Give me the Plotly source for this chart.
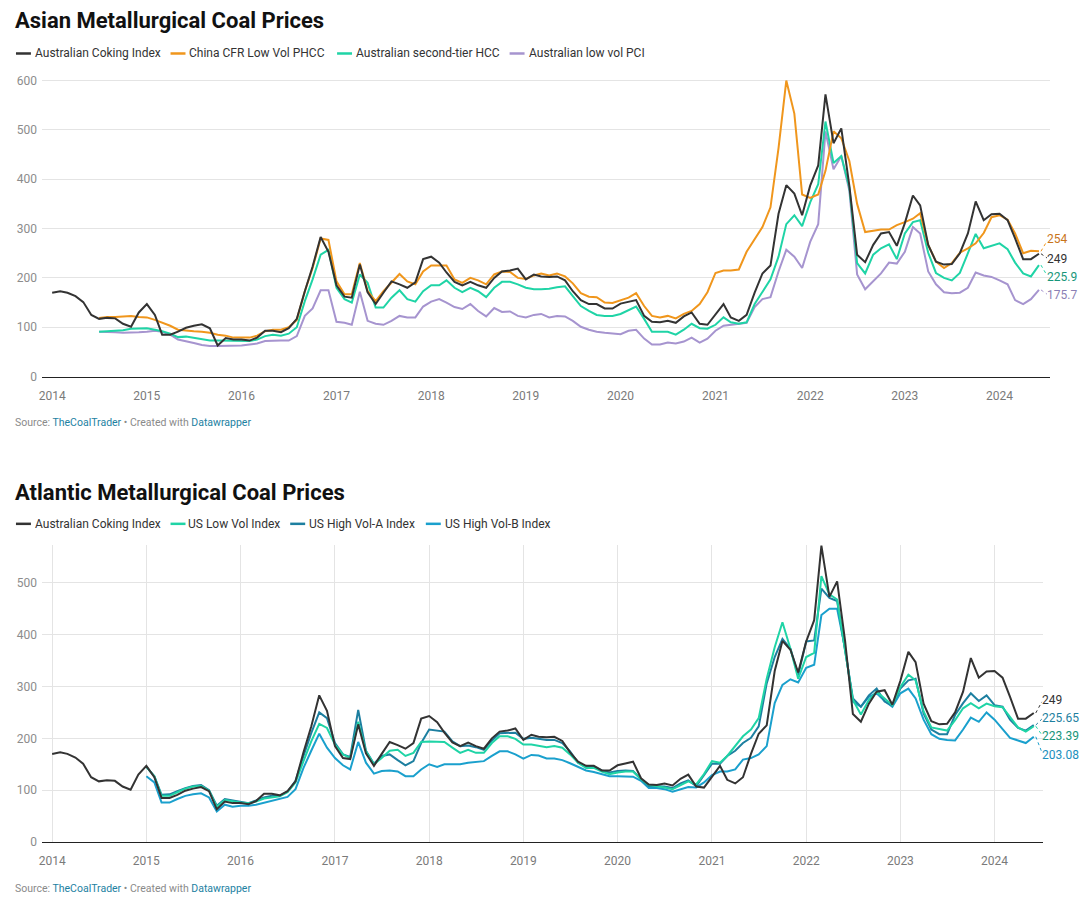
import pandas as pd
import plotly.graph_objects as go

W, H = 1087, 918

# ---------------- DATA ----------------
months_all = pd.date_range("2014-01-01", "2024-06-01", freq="MS")
dates_all = [d.strftime("%Y-%m-%d") for d in months_all]
dates_jul14 = dates_all[6:]
dates_jan15 = dates_all[12:]

years = list(range(2014, 2025))
year_ticks = [f"{y}-01-01" for y in years]
year_labels = [str(y) for y in years]

australian_coking = [
    170, 173, 170, 163, 151, 125, 117, 119, 118, 107, 101, 130,
    147, 125, 85, 85, 91, 99, 103, 106, 98, 63, 78, 75,
    75, 73, 79, 93, 93, 90, 98, 117, 173, 223, 283, 253,
    185, 162, 160, 227, 171, 147, 170, 193, 187, 180, 191, 238,
    243, 231, 211, 192, 185, 192, 185, 180, 200, 213, 215, 219,
    197, 207, 203, 202, 203, 195, 173, 155, 147, 147, 138, 138,
    148, 152, 155, 123, 111, 110, 113, 109, 122, 130, 107, 105,
    125, 147, 120, 113, 125, 170, 209, 225, 330, 388, 371, 327,
    387, 428, 572, 473, 503, 387, 247, 232, 267, 290, 293, 265,
    311, 367, 347, 267, 233, 227, 228, 250, 290, 355, 317, 329,
    330, 317, 280, 238, 238, 249,
]

china_cfr_phcc = [
    119, 121, 121, 122, 123, 121,
    120, 115, 110, 103, 95, 93, 92, 91, 89, 85, 83, 79,
    79, 79, 83, 92, 95, 95, 100, 115, 173, 220, 280, 277,
    193, 167, 167, 230, 173, 153, 173, 190, 208, 193, 187, 213,
    225, 225, 225, 197, 190, 200, 195, 187, 207, 213, 212, 200,
    198, 205, 209, 205, 209, 203, 189, 169, 162, 161, 150, 149,
    155, 160, 169, 143, 123, 120, 123, 118, 127, 133, 147, 171,
    210, 215, 215, 217, 253, 278, 303, 343, 463, 600, 533, 369,
    362, 369, 417, 497, 483, 437, 350, 293, 295, 298, 298, 307,
    313, 320, 331, 267, 233, 220, 230, 251, 260, 270, 291, 323,
    327, 318, 290, 250, 255, 254,
]

aus_second_tier_hcc = [
    91, 92, 93, 94, 97, 98,
    98, 95, 92, 87, 80, 81, 78, 75, 73, 73, 73, 72,
    72, 72, 75, 82, 85, 83, 87, 100, 153, 197, 247, 257,
    180, 157, 150, 207, 190, 140, 140, 160, 175, 157, 152, 173,
    185, 185, 195, 180, 171, 180, 173, 161, 180, 192, 192, 187,
    180, 177, 177, 178, 181, 183, 163, 143, 133, 125, 123, 123,
    127, 135, 142, 117, 91, 91, 91, 85, 95, 107, 98, 97,
    105, 120, 110, 107, 110, 147, 173, 197, 243, 309, 327, 305,
    353, 390, 517, 433, 447, 383, 230, 209, 247, 260, 268, 238,
    290, 313, 317, 251, 210, 200, 195, 210, 250, 289, 260, 265,
    270, 258, 231, 209, 203, 225.9,
]

aus_low_vol_pci = [
    91, 91, 90, 89, 89, 90,
    91, 93, 91, 85, 75, 72, 68, 64, 62, 62, 62, 63,
    63, 65, 67, 72, 73, 73, 73, 82, 123, 138, 175, 175,
    111, 109, 105, 172, 113, 107, 105, 113, 123, 120, 120, 142,
    152, 157, 150, 141, 137, 147, 133, 122, 139, 131, 132, 123,
    120, 125, 127, 120, 123, 122, 113, 101, 95, 91, 89, 87,
    86, 93, 95, 77, 65, 65, 69, 67, 71, 79, 69, 77,
    93, 103, 105, 107, 109, 141, 157, 161, 213, 257, 243, 220,
    273, 309, 497, 420, 447, 377, 207, 177, 193, 209, 231, 229,
    253, 303, 290, 213, 187, 171, 169, 170, 180, 211, 205, 202,
    195, 187, 155, 147, 157, 175.7,
]

us_low_vol = [
    145, 127, 89, 89, 96, 103, 107, 108, 99, 68, 81, 78,
    76, 75, 78, 84, 86, 88, 96, 115, 156, 194, 228, 220,
    188, 169, 162, 232, 175, 150, 162, 176, 178, 166, 172, 193,
    194, 194, 193, 182, 172, 178, 172, 172, 191, 204, 204, 199,
    188, 188, 185, 183, 185, 182, 169, 153, 143, 143, 136, 131,
    134, 136, 136, 121, 110, 108, 105, 102, 110, 117, 111, 131,
    156, 153, 166, 185, 204, 217, 239, 315, 376, 424, 373, 315,
    357, 365, 513, 478, 468, 369, 274, 246, 274, 290, 277, 264,
    299, 323, 312, 252, 221, 218, 215, 235, 258, 268, 258, 267,
    262, 260, 240, 221, 213, 223.39,
]

us_high_vol_a = [
    145, 127, 91, 92, 98, 104, 108, 110, 100, 70, 83, 80,
    78, 75, 80, 86, 89, 89, 97, 118, 166, 210, 250, 239,
    191, 169, 164, 255, 176, 151, 166, 169, 158, 148, 156, 191,
    217, 215, 213, 194, 185, 186, 183, 178, 196, 210, 211, 211,
    199, 201, 199, 197, 197, 191, 175, 153, 145, 145, 138, 134,
    137, 138, 137, 121, 108, 107, 107, 104, 113, 119, 108, 129,
    151, 151, 166, 176, 191, 201, 223, 306, 357, 392, 373, 322,
    387, 389, 489, 471, 465, 369, 277, 261, 283, 296, 271, 263,
    296, 312, 315, 248, 217, 208, 208, 245, 268, 287, 272, 283,
    264, 261, 236, 220, 215, 225.65,
]

us_high_vol_b = [
    127, 115, 76, 76, 83, 89, 92, 94, 86, 59, 72, 68,
    70, 70, 72, 76, 80, 83, 87, 102, 143, 176, 209, 182,
    162, 148, 140, 193, 153, 132, 137, 138, 136, 127, 127, 140,
    150, 145, 150, 150, 150, 153, 155, 156, 166, 175, 175, 169,
    161, 168, 167, 161, 161, 158, 152, 145, 138, 135, 131, 127,
    127, 126, 126, 118, 104, 104, 102, 97, 102, 106, 105, 115,
    129, 136, 136, 140, 159, 162, 169, 185, 268, 303, 314, 308,
    336, 342, 438, 450, 450, 373, 271, 261, 280, 287, 272, 261,
    287, 296, 277, 236, 208, 199, 197, 196, 217, 240, 232, 250,
    236, 217, 201, 196, 191, 203.08,
]

# ---------------- STYLE ----------------
FONT = "Roboto"
C_BLACK = "#333333"
C_ORANGE = "#f0961c"
C_GREEN = "#1fd4a6"
C_PURPLE = "#a694cf"
C_TEAL = "#1d7fa0"
C_BLUE = "#1aa0cd"

GRID = "#e4e4e4"

fig = go.Figure()


def ts(d):
    return pd.Timestamp(d).value / 1e6  # ms


def xrange_for(px_left, px_right, px_2014, px_per_year):
    t14 = ts("2014-01-01")
    t24 = ts("2024-01-01")
    ms_per_px = (t24 - t14) / (10 * px_per_year)
    a = t14 - (px_2014 - px_left) * ms_per_px
    b = t14 + (px_right - px_2014) * ms_per_px
    return [pd.Timestamp(a, unit="ms").strftime("%Y-%m-%d %H:%M:%S"),
            pd.Timestamp(b, unit="ms").strftime("%Y-%m-%d %H:%M:%S")]


def py(px):
    return 1 - px / H


# --------- TOP CHART ---------
top_series = [
    ("Australian low vol PCI", dates_jul14, aus_low_vol_pci, C_PURPLE),
    ("Australian second-tier HCC", dates_jul14, aus_second_tier_hcc, C_GREEN),
    ("China CFR Low Vol PHCC", dates_jul14, china_cfr_phcc, C_ORANGE),
    ("Australian Coking Index", dates_all, australian_coking, C_BLACK),
]
for name, xs, ys, col in top_series:
    fig.add_trace(go.Scatter(x=xs, y=ys, mode="lines", name=name,
                             line=dict(color=col, width=2), xaxis="x", yaxis="y",
                             showlegend=False, hoverinfo="skip"))

bot_series = [
    ("US High Vol-B Index", dates_jan15, us_high_vol_b, C_BLUE),
    ("US High Vol-A Index", dates_jan15, us_high_vol_a, C_TEAL),
    ("US Low Vol Index", dates_jan15, us_low_vol, C_GREEN),
    ("Australian Coking Index", dates_all, australian_coking, C_BLACK),
]
for name, xs, ys, col in bot_series:
    fig.add_trace(go.Scatter(x=xs, y=ys, mode="lines", name=name,
                             line=dict(color=col, width=2), xaxis="x2", yaxis="y2",
                             showlegend=False, hoverinfo="skip"))

# axis geometry (pixels)
T_LEFT, T_RIGHT, T_2014, T_PPY = 39, 1050, 49.3, 95.0
T_ZERO, T_PPU, T_YMAX = 378.3, 0.4983, 610
B_LEFT, B_RIGHT, B_2014, B_PPY = 39, 1043, 49.3, 94.5
B_ZERO, B_PPU, B_YMAX = 848.3, 0.5233, 574

tick_font_y = dict(family=FONT, size=12, color="#8c8c8c")
tick_font_x = dict(family=FONT, size=12, color="#7a7a7a")

fig.update_layout(
    width=W, height=H,
    margin=dict(l=0, r=0, t=0, b=0),
    paper_bgcolor="white", plot_bgcolor="white",
    showlegend=False,
    font=dict(family=FONT, color="#333"),
    xaxis=dict(domain=[T_LEFT / W, T_RIGHT / W], anchor="y", type="date",
               range=xrange_for(T_LEFT, T_RIGHT, T_2014, T_PPY),
               tickmode="array", tickvals=year_ticks, ticktext=year_labels,
               showgrid=False, zeroline=False, showline=True, linecolor="#222",
               linewidth=1, ticks="", tickfont=tick_font_x,
               ticklabelstandoff=8, fixedrange=True),
    yaxis=dict(domain=[py(T_ZERO), py(T_ZERO - T_YMAX * T_PPU)], anchor="x",
               range=[0, T_YMAX], tickmode="array",
               tickvals=[0, 100, 200, 300, 400, 500, 600],
               showgrid=True, gridcolor=GRID, gridwidth=1, zeroline=False,
               showline=False, ticks="", tickfont=tick_font_y,
               ticklabelstandoff=4, fixedrange=True),
    xaxis2=dict(domain=[B_LEFT / W, B_RIGHT / W], anchor="y2", type="date",
                range=xrange_for(B_LEFT, B_RIGHT, B_2014, B_PPY),
                tickmode="array", tickvals=year_ticks, ticktext=year_labels,
                showgrid=True, gridcolor=GRID, gridwidth=1,
                zeroline=False, showline=True, linecolor="#222",
                linewidth=1, ticks="", tickfont=tick_font_x,
                ticklabelstandoff=8, fixedrange=True),
    yaxis2=dict(domain=[py(B_ZERO), py(B_ZERO - B_YMAX * B_PPU)], anchor="x2",
                range=[0, B_YMAX], tickmode="array",
                tickvals=[0, 100, 200, 300, 400, 500],
                showgrid=True, gridcolor=GRID, gridwidth=1, zeroline=False,
                showline=False, ticks="", tickfont=tick_font_y,
                ticklabelstandoff=4, fixedrange=True),
)

annotations = []
shapes = []


def text_px(x, y, text, size, color, weight=400, xanchor="left"):
    annotations.append(dict(x=x / W, y=py(y), xref="paper", yref="paper",
                            text=text, showarrow=False, xanchor=xanchor,
                            yanchor="middle", borderpad=0, borderwidth=0,
                            font=dict(family=FONT, size=size, color=color,
                                      weight=weight)))


# titles
text_px(12, 19, "Asian Metallurgical Coal Prices", 22, "#111", 700)
text_px(12, 495, "Atlantic Metallurgical Coal Prices", 22, "#111", 700)

# custom legends
legend1 = [("Australian Coking Index", C_BLACK, 13, 32),
           ("China CFR Low Vol PHCC", C_ORANGE, 168, 187),
           ("Australian second-tier HCC", C_GREEN, 335, 354),
           ("Australian low vol PCI", C_PURPLE, 508, 527)]
legend2 = [("Australian Coking Index", C_BLACK, 13, 32),
           ("US Low Vol Index", C_GREEN, 168, 186),
           ("US High Vol-A Index", C_TEAL, 288, 307),
           ("US High Vol-B Index", C_BLUE, 424, 443)]
for items, ly in ((legend1, 52), (legend2, 527)):
    for label, col, sx, tx in items:
        shapes.append(dict(type="line", xref="paper", yref="paper",
                           x0=sx / W, x1=(sx + 15) / W, y0=py(ly), y1=py(ly),
                           line=dict(color=col, width=2.5)))
        text_px(tx, ly, label, 12, "#333")

# source lines
src = ("<span style='color:#8a8a8a'>Source: </span>"
       "<span style='color:#1d81a2'>TheCoalTrader</span>"
       "<span style='color:#8a8a8a'> \u2022 Created with </span>"
       "<span style='color:#1d81a2'>Datawrapper</span>")
text_px(12, 425, src, 10.5, "#8a8a8a")
text_px(12, 895, src, 10.5, "#8a8a8a")

# end-value labels with dotted connectors
top_labels = [
    (china_cfr_phcc, "#c9741a", C_ORANGE, 12),
    (australian_coking, "#333333", C_BLACK, -5),
    (aus_second_tier_hcc, "#17967a", C_GREEN, -12),
    (aus_low_vol_pci, "#8b7fb5", C_PURPLE, -5),
]
bot_labels = [
    (australian_coking, "#333333", C_BLACK, 13),
    (us_high_vol_a, "#1d7fa0", C_TEAL, 7),
    (us_low_vol, "#16957a", C_GREEN, -10),
    (us_high_vol_b, "#1b8fbd", C_BLUE, -18),
]
for labels, xr, yr in ((top_labels, "x", "y"), (bot_labels, "x2", "y2")):
    for series, tcol, lcol, dy in labels:
        xv, yv = dates_all[-1], series[-1]
        annotations.append(dict(x=xv, y=yv, xref=xr, yref=yr, text=f"{yv:g}",
                                showarrow=False, xanchor="left", yanchor="middle",
                                xshift=8, yshift=dy, borderpad=0, borderwidth=0,
                                font=dict(family=FONT, size=12, color=tcol)))
        shapes.append(dict(type="line", xref=xr, yref=yr,
                           xsizemode="pixel", ysizemode="pixel",
                           xanchor=xv, yanchor=yv,
                           x0=2, x1=8, y0=0, y1=dy * 0.85,
                           line=dict(color=lcol, width=1, dash="dot")))

fig.update_layout(annotations=annotations, shapes=shapes)

fig.write_html("out.html")
